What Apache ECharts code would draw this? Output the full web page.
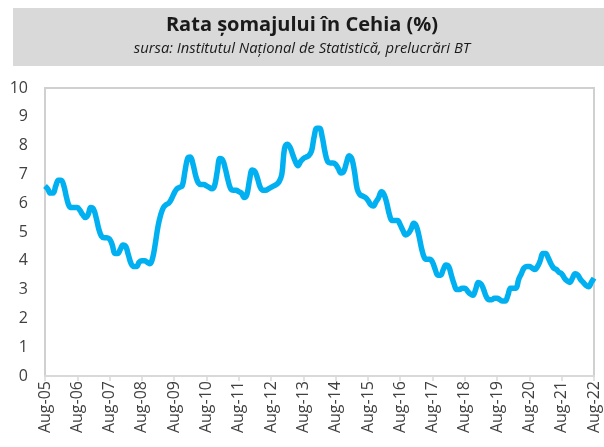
<!DOCTYPE html>
<html><head><meta charset="utf-8">
<script src="https://cdn.jsdelivr.net/npm/echarts@6/dist/echarts.min.js"></script>
<style>html,body{margin:0;padding:0;background:#fff}#c{width:604px;height:447px}</style>
</head><body><div id="c"></div>
<script>
const titleText = "Rata șomajului în Cehia (%)";
const subtitleText = "sursa: Institutul Național de Statistică, prelucrări BT";
const monthNames = ["Jan","Feb","Mar","Apr","May","Jun","Jul","Aug","Sep","Oct","Nov","Dec"];
const startYear = 2005, startMonth = 7; // Aug 2005
const values2005 = [6.6, 6.5, 6.35, 6.35, 6.6];
const values2006 = [6.8, 6.8, 6.6, 6.2, 5.9, 5.85, 5.85, 5.85, 5.75, 5.6, 5.5, 5.6];
const values2007 = [5.85, 5.8, 5.5, 5.1, 4.85, 4.8, 4.8, 4.75, 4.55, 4.25, 4.25, 4.4];
const values2008 = [4.55, 4.5, 4.2, 3.9, 3.8, 3.8, 3.95, 4.0, 4.0, 3.95, 3.9, 4.1];
const values2009 = [4.6, 5.2, 5.6, 5.85, 5.95, 6.0, 6.15, 6.35, 6.5, 6.55, 6.6, 7.1];
const values2010 = [7.55, 7.6, 7.35, 6.95, 6.7, 6.65, 6.65, 6.6, 6.55, 6.5, 6.6, 7.1];
const values2011 = [7.55, 7.5, 7.2, 6.8, 6.5, 6.45, 6.45, 6.4, 6.35, 6.2, 6.3, 6.8];
const values2012 = [7.15, 7.1, 6.85, 6.55, 6.45, 6.45, 6.5, 6.55, 6.6, 6.65, 6.75, 7.0];
const values2013 = [7.9, 8.05, 7.95, 7.7, 7.45, 7.3, 7.45, 7.55, 7.6, 7.65, 7.8, 8.3];
const values2014 = [8.6, 8.6, 8.3, 7.8, 7.45, 7.4, 7.4, 7.35, 7.2, 7.05, 7.1, 7.4];
const values2015 = [7.65, 7.55, 7.1, 6.5, 6.3, 6.25, 6.2, 6.1, 5.95, 5.9, 6.05, 6.2];
const values2016 = [6.4, 6.3, 6.0, 5.6, 5.4, 5.4, 5.4, 5.25, 5.05, 4.9, 4.95, 5.1];
const values2017 = [5.3, 5.2, 4.85, 4.4, 4.1, 4.05, 4.05, 3.95, 3.7, 3.5, 3.5, 3.7];
const values2018 = [3.85, 3.8, 3.5, 3.2, 3.0, 3.0, 3.05, 3.05, 2.95, 2.85, 2.8, 3.0];
const values2019 = [3.25, 3.2, 3.0, 2.75, 2.65, 2.65, 2.7, 2.7, 2.65, 2.6, 2.6, 2.8];
const values2020 = [3.05, 3.05, 3.05, 3.35, 3.55, 3.75, 3.8, 3.8, 3.75, 3.7, 3.8, 4.0];
const values2021 = [4.25, 4.25, 4.1, 3.9, 3.75, 3.7, 3.6, 3.55, 3.4, 3.3, 3.25, 3.4];
const values2022 = [3.55, 3.5, 3.35, 3.25, 3.15, 3.1, 3.25, 3.4];

const values = [].concat(values2005, values2006, values2007, values2008, values2009, values2010,
  values2011, values2012, values2013, values2014, values2015, values2016, values2017, values2018,
  values2019, values2020, values2021, values2022);
const categories = values.map((v, i) => {
  const m = startMonth + i;
  const y = startYear + Math.floor(m / 12);
  return monthNames[m % 12] + "-" + String(y % 100).padStart(2, "0");
});

const chart = echarts.init(document.getElementById('c'), null, {renderer: 'canvas'});
chart.setOption({
  animation: false,
  graphic: [{
    type: 'rect', left: 13, top: 8, shape: {width: 591, height: 58},
    style: {fill: '#d9d9d9'}, z: -1
  }],
  title: {
    text: titleText, subtext: subtitleText, left: 'center', top: 10, itemGap: 6,
    textStyle: {fontFamily: 'Open Sans', fontWeight: 'bold', fontSize: 20, color: '#1a1a1a'},
    subtextStyle: {fontFamily: 'Open Sans', fontStyle: 'italic', fontSize: 14.8, color: '#1a1a1a'}
  },
  grid: {left: 45, right: 10, top: 88, bottom: 71, show: true, borderColor: '#d0d0d0', borderWidth: 2, backgroundColor: 'transparent'},
  xAxis: {
    type: 'category', data: categories, boundaryGap: false,
    axisLine: {lineStyle: {color: '#d9d9d9', width: 2}},
    axisTick: {show: true, interval: 11, length: 5, lineStyle: {color: '#d9d9d9', width: 1.5}},
    axisLabel: {interval: 11, rotate: 90, fontFamily: 'Open Sans', fontSize: 16, color: '#404040', margin: 5}
  },
  yAxis: {
    type: 'value', min: 0, max: 10, interval: 1,
    splitLine: {show: false},
    axisLine: {show: true, lineStyle: {color: '#d0d0d0', width: 2}},
    axisTick: {show: false},
    axisLabel: {fontFamily: 'Open Sans', fontSize: 16, color: '#404040', margin: 17}
  },
  series: [{
    type: 'line', data: values, showSymbol: false, smooth: 0.4,
    lineStyle: {color: '#00b0f0', width: 5.5}
  }]
});
</script></body></html>
